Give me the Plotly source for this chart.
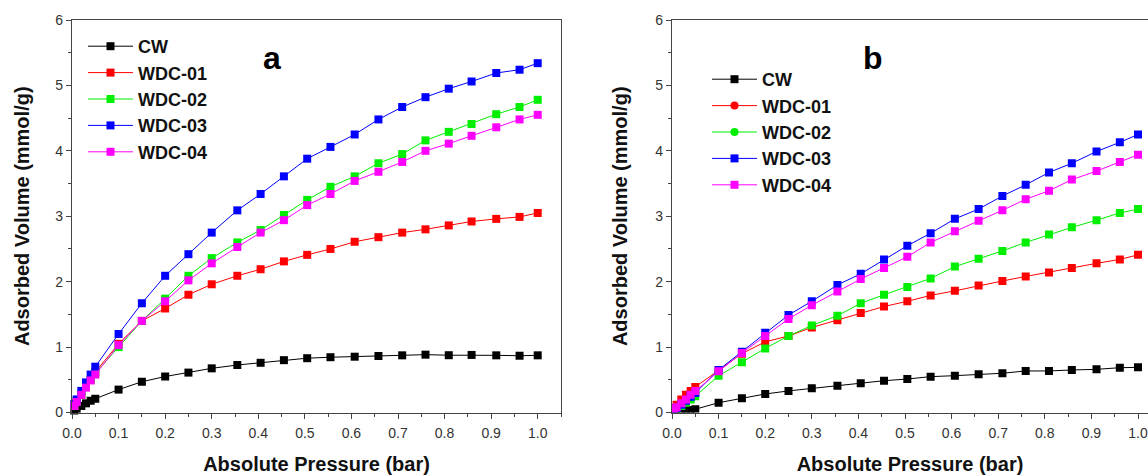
import plotly.graph_objects as go

W, H = 1148, 475

# ---------------- data ----------------
pressure = [0.005, 0.01, 0.02, 0.03, 0.04, 0.05, 0.10, 0.15, 0.20, 0.25, 0.30, 0.355,
            0.405, 0.455, 0.505, 0.555, 0.607, 0.658, 0.709, 0.759, 0.809, 0.858,
            0.911, 0.961, 1.00]

series_names = ["CW", "WDC-01", "WDC-02", "WDC-03", "WDC-04"]
series_colors = ["#000000", "#ff0000", "#00ee00", "#0000ff", "#ff00ff"]

# panel a
a_cw = [0.03, 0.06, 0.10, 0.14, 0.18, 0.21, 0.35, 0.47, 0.55, 0.61, 0.675, 0.726,
        0.76, 0.80, 0.83, 0.845, 0.853, 0.864, 0.874, 0.884, 0.876, 0.88, 0.874, 0.868, 0.874]
a_wdc01 = [0.10, 0.16, 0.27, 0.39, 0.50, 0.62, 1.05, 1.40, 1.59, 1.80, 1.96, 2.09,
           2.19, 2.31, 2.41, 2.50, 2.61, 2.68, 2.75, 2.80, 2.86, 2.92, 2.96, 2.99, 3.05]
a_wdc02 = [0.10, 0.17, 0.28, 0.39, 0.50, 0.60, 1.00, 1.40, 1.74, 2.09, 2.36, 2.60,
           2.79, 3.02, 3.25, 3.45, 3.61, 3.81, 3.95, 4.16, 4.29, 4.41, 4.56, 4.67, 4.78]
a_wdc03 = [0.13, 0.20, 0.33, 0.46, 0.58, 0.70, 1.20, 1.67, 2.09, 2.42, 2.75, 3.09,
           3.34, 3.61, 3.88, 4.06, 4.25, 4.48, 4.67, 4.82, 4.95, 5.06, 5.19, 5.24, 5.34]
a_wdc04 = [0.10, 0.16, 0.27, 0.38, 0.49, 0.58, 1.03, 1.40, 1.70, 2.02, 2.28, 2.53,
           2.75, 2.94, 3.17, 3.34, 3.54, 3.68, 3.83, 4.00, 4.11, 4.23, 4.36, 4.48, 4.55]

# panel b
b_cw = [0.00, 0.01, 0.02, 0.03, 0.04, 0.05, 0.15, 0.217, 0.283, 0.33, 0.37, 0.41,
        0.446, 0.486, 0.512, 0.548, 0.563, 0.584, 0.60, 0.635, 0.635, 0.65, 0.66, 0.685, 0.69]
b_wdc01 = [0.07, 0.12, 0.20, 0.27, 0.33, 0.39, 0.64, 0.90, 1.08, 1.17, 1.30, 1.41,
           1.52, 1.62, 1.70, 1.79, 1.86, 1.94, 2.01, 2.08, 2.14, 2.21, 2.28, 2.34, 2.41]
b_wdc02 = [0.03, 0.05, 0.10, 0.15, 0.20, 0.25, 0.56, 0.77, 0.98, 1.17, 1.33, 1.48,
           1.67, 1.80, 1.92, 2.05, 2.23, 2.35, 2.47, 2.60, 2.72, 2.83, 2.94, 3.05, 3.11]
b_wdc03 = [0.04, 0.07, 0.12, 0.18, 0.24, 0.30, 0.65, 0.93, 1.22, 1.49, 1.70, 1.95,
           2.12, 2.34, 2.55, 2.74, 2.96, 3.11, 3.31, 3.48, 3.67, 3.81, 3.99, 4.13, 4.25]
b_wdc04 = [0.05, 0.08, 0.14, 0.20, 0.27, 0.33, 0.63, 0.91, 1.17, 1.43, 1.64, 1.85,
           2.04, 2.21, 2.38, 2.60, 2.77, 2.93, 3.09, 3.26, 3.39, 3.56, 3.69, 3.83, 3.94]

panel_a = [a_cw, a_wdc01, a_wdc02, a_wdc03, a_wdc04]
panel_b = [b_cw, b_wdc01, b_wdc02, b_wdc03, b_wdc04]
legend_b_symbols = ["square", "circle", "circle", "square", "square"]

x_tick_vals = [0.0, 0.1, 0.2, 0.3, 0.4, 0.5, 0.6, 0.7, 0.8, 0.9, 1.0]
x_tick_text = ["0.0", "0.1", "0.2", "0.3", "0.4", "0.5", "0.6", "0.7", "0.8", "0.9", "1.0"]
y_tick_vals = [0, 1, 2, 3, 4, 5, 6]

x_title = "Absolute Pressure (bar)"
y_title = "Adsorbed Volume (mmol/g)"
panel_labels = ["a", "b"]

# ---------------- figure ----------------
def px(x):
    return x / W

def py(y):
    return 1 - y / H

FONT = "Liberation Sans, Arial, sans-serif"

fig = go.Figure()

for name, col, ys in zip(series_names, series_colors, panel_a):
    fig.add_trace(go.Scatter(
        x=pressure, y=ys, name=name, mode="lines+markers",
        line=dict(color=col, width=1),
        marker=dict(symbol="square", size=8, color=col),
        xaxis="x", yaxis="y", legend="legend", cliponaxis=False))

for name, col, ys in zip(series_names, series_colors, panel_b):
    fig.add_trace(go.Scatter(
        x=pressure, y=ys, name=name, mode="lines+markers",
        line=dict(color=col, width=1),
        marker=dict(symbol="square", size=8, color=col),
        xaxis="x2", yaxis="y2", showlegend=False, cliponaxis=True))

for name, col, sym in zip(series_names, series_colors, legend_b_symbols):
    fig.add_trace(go.Scatter(
        x=[None], y=[None], name=name, mode="lines+markers",
        line=dict(color=col, width=1),
        marker=dict(symbol=sym, size=8, color=col),
        xaxis="x2", yaxis="y2", legend="legend2"))

ydom = [py(412.5), py(20)]
axis_common = dict(
    showline=True, linecolor="#444", linewidth=1.3,
    ticks="outside", ticklen=5, tickwidth=1.2, tickcolor="#444",
    showgrid=False, zeroline=False, automargin=False,
    tickfont=dict(family=FONT, size=14, color="#333"),
    title_font=dict(family=FONT, size=20, color="#111"),
)

LEG_FONT = dict(family=FONT, size=18, color="#111", weight="bold")

fig.update_layout(
    width=W, height=H,
    margin=dict(l=0, r=0, t=0, b=0),
    paper_bgcolor="white", plot_bgcolor="white",
    font=dict(family=FONT),
    xaxis=dict(domain=[px(72), px(561)], range=[0, 1.05], anchor="y",
               tickvals=x_tick_vals, ticktext=x_tick_text, mirror=True,
               ticklabelstandoff=3,
               minor=dict(dtick=0.05, tick0=0, ticks="outside", ticklen=3, tickcolor="#444"),
               title=dict(text="<b>" + x_title + "</b>", standoff=16), **axis_common),
    yaxis=dict(domain=ydom, range=[0, 6], anchor="x",
               tickvals=y_tick_vals, mirror=True,
               minor=dict(dtick=0.5, tick0=0, ticks="outside", ticklen=3, tickcolor="#444"),
               title=dict(text="<b>" + y_title + "</b>", standoff=20), **axis_common),
    xaxis2=dict(domain=[px(672), 1.0], range=[0, 476 / 466], anchor="y2",
                tickvals=x_tick_vals, ticktext=x_tick_text, mirror=True,
                ticklabelstandoff=3,
                minor=dict(dtick=0.05, tick0=0, ticks="outside", ticklen=3, tickcolor="#444"),
                title=dict(text="<b>" + x_title + "</b>", standoff=16), **axis_common),
    yaxis2=dict(domain=ydom, range=[0, 6], anchor="x2",
                tickvals=y_tick_vals, mirror=False,
                minor=dict(dtick=0.5, tick0=0, ticks="outside", ticklen=3, tickcolor="#444"),
                title=dict(text="<b>" + y_title + "</b>", standoff=22), **axis_common),
    legend=dict(x=px(83), y=py(28), xanchor="left", yanchor="top",
                bgcolor="rgba(0,0,0,0)", borderwidth=0, itemwidth=45,
                tracegroupgap=0, font=LEG_FONT),
    legend2=dict(x=px(707), y=py(61), xanchor="left", yanchor="top",
                 bgcolor="rgba(0,0,0,0)", borderwidth=0, itemwidth=45,
                 tracegroupgap=0, font=LEG_FONT),
    showlegend=True,
)

fig.add_annotation(x=px(272), y=py(58), xref="paper", yref="paper", showarrow=False,
                   xanchor="center", yanchor="middle",
                   text="<b>" + panel_labels[0] + "</b>",
                   font=dict(family=FONT, size=32, color="#000"))
fig.add_annotation(x=px(873), y=py(58), xref="paper", yref="paper", showarrow=False,
                   xanchor="center", yanchor="middle",
                   text="<b>" + panel_labels[1] + "</b>",
                   font=dict(family=FONT, size=32, color="#000"))

fig.write_html("out.html")
